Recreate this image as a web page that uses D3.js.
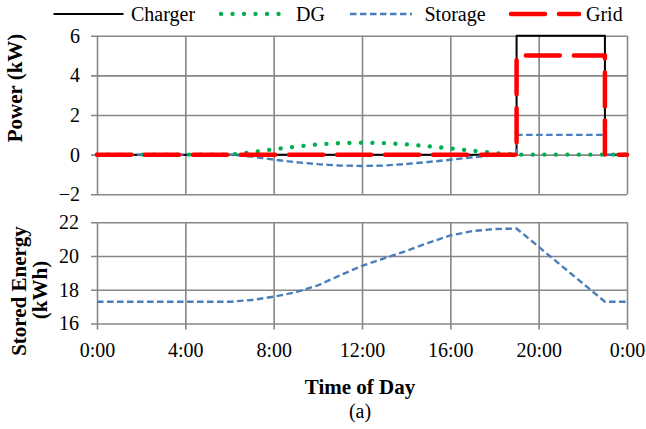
<!DOCTYPE html>
<html><head><meta charset="utf-8">
<script src="https://cdn.jsdelivr.net/npm/d3@7"></script>
<style>
html,body{margin:0;padding:0;background:#fff;}
svg{display:block;font-family:"Liberation Serif","Times New Roman",serif;}
</style></head>
<body>
<svg id="chart" width="646" height="429"></svg>
<script>
// ---- data ----
const tPower   = [0,1,2,3,4,5,6,7,8,9,10,11,12,13,14,15,16,17,18,19,19,20,21,22,23,23,24];
const charger  = [0,0,0,0,0,0,0,0,0,0,0,0,0,0,0,0,0,0,0,0,6,6,6,6,6,0,0];
const dg       = [0,0,0,0,0,0,0,0.12,0.27,0.4,0.52,0.58,0.6,0.58,0.52,0.42,0.32,0.2,0.08,0,0,0,0,0,0,0,0];
const storage  = [0,0,0,0,0,0,0,-0.1,-0.25,-0.38,-0.48,-0.55,-0.57,-0.55,-0.47,-0.37,-0.26,-0.13,-0.04,0,1,1,1,1,1,0,0];
const grid     = [0,0,0,0,0,0,0,0,0,0,0,0,0,0,0,0,0,0,0,0,5,5,5,5,5,0,0];
const tEnergy  = [0,1,2,3,4,5,6,7,8,9,10,11,12,13,14,15,16,17,18,19,20,21,22,23,24];
const energy   = [17.29,17.29,17.29,17.29,17.29,17.29,17.29,17.39,17.59,17.85,18.26,18.85,19.42,19.86,20.3,20.78,21.22,21.48,21.6,21.63,20.55,19.46,18.38,17.29,17.29];
const xTicks   = [0,4,8,12,16,20,24];
const xTickLabels = ["0:00","4:00","8:00","12:00","16:00","20:00","0:00"];
const powerTicks  = [-2,0,2,4,6];
const energyTicks = [16,18,20,22];
const seriesNames = ["Charger","DG","Storage","Grid"];

// ---- layout ----
const svg = d3.select("#chart");
const X0 = 97, X1 = 627;
const GRID = "#878787";
const x = d3.scaleLinear().domain([0,24]).range([X0,X1]);
const yP = d3.scaleLinear().domain([-2,6]).range([194.3,35.7]);
const yE = d3.scaleLinear().domain([16,22]).range([323.5,222.3]);

function styleAxis(g){
  g.select(".domain").remove();
  g.selectAll(".tick line").attr("stroke",GRID).attr("stroke-width",1.6);
  g.selectAll(".tick text").attr("fill","#000").style("font-size","20px")
    .style("font-family","'Liberation Serif','Times New Roman',serif");
}

// top plot: horizontal grid + left ticks
svg.append("g").attr("transform",`translate(${X0-6},0)`)
  .call(d3.axisLeft(yP).tickValues(powerTicks).tickSize(-(X1-X0+6)).tickPadding(11).tickFormat(d3.format("d")))
  .call(styleAxis);
// top plot vertical grid
svg.append("g").attr("transform",`translate(0,${yP(-2)})`)
  .call(d3.axisBottom(x).tickValues(xTicks).tickSize(-(yP(-2)-yP(6))).tickFormat(""))
  .call(styleAxis);

// bottom plot grid
svg.append("g").attr("transform",`translate(${X0-6},0)`)
  .call(d3.axisLeft(yE).tickValues(energyTicks).tickSize(-(X1-X0+6)).tickPadding(12).tickFormat(d3.format("d")))
  .call(styleAxis);
svg.append("g").attr("transform",`translate(0,${yE(16)+6})`)
  .call(d3.axisBottom(x).tickValues(xTicks).tickSize(-(yE(16)-yE(22)+6)).tickPadding(13.5)
        .tickFormat((d,i)=>xTickLabels[i]))
  .call(styleAxis);

// ---- series ----
const styles = {
  Charger: {stroke:"#000", width:2, dash:null, cap:"butt"},
  DG:      {stroke:"#00B050", width:4.3, dash:"0.1 11.4", cap:"round"},
  Storage: {stroke:"#4A7EBB", width:2.4, dash:"6.5 3.5", cap:"butt"},
  Grid:    {stroke:"#FF0000", width:4.5, dash:"34 14", cap:"round"}
};
const powerData = {Charger:charger, DG:dg, Storage:storage, Grid:grid};
const lineP = d3.line().x(d=>x(d[0])).y(d=>yP(d[1]));
["Charger","Storage","DG","Grid"].forEach(name=>{
  const s = styles[name];
  svg.append("path")
    .datum(tPower.map((t,i)=>[t,powerData[name][i]]))
    .attr("d",lineP).attr("fill","none")
    .attr("stroke",s.stroke).attr("stroke-width",s.width)
    .attr("stroke-dasharray",s.dash).attr("stroke-linecap",s.cap)
    .attr("stroke-linejoin","round");
});
const lineE = d3.line().x(d=>x(d[0])).y(d=>yE(d[1]));
svg.append("path")
  .datum(tEnergy.map((t,i)=>[t,energy[i]]))
  .attr("d",lineE).attr("fill","none")
  .attr("stroke",styles.Storage.stroke).attr("stroke-width",styles.Storage.width)
  .attr("stroke-dasharray",styles.Storage.dash);

// ---- legend ----
const legendPos = [
  {name:"Charger", x1:53.5, x2:123.5, tx:131},
  {name:"DG",      x1:221, x2:284,   tx:296},
  {name:"Storage", x1:350, x2:412,   tx:424.5},
  {name:"Grid",    x1:511, x2:579,   tx:586}
];
const leg = svg.append("g");
legendPos.forEach((p,i)=>{
  const s = styles[seriesNames[i]];
  leg.append("line").attr("x1",p.x1).attr("x2",p.x2).attr("y1",14).attr("y2",14)
    .attr("stroke",s.stroke).attr("stroke-width",s.width)
    .attr("stroke-dasharray", seriesNames[i]==="Grid" ? "34 14" : s.dash)
    .attr("stroke-linecap",s.cap);
  leg.append("text").attr("x",p.tx).attr("y",20.5).style("font-size","20px").text(p.name);
});

// ---- axis titles ----
svg.append("text").attr("transform","translate(22,88) rotate(-90)")
  .attr("text-anchor","middle").style("font-size","21px").style("font-weight","bold").text("Power (kW)");
svg.append("text").attr("transform","translate(26,291) rotate(-90)")
  .attr("text-anchor","middle").style("font-size","21px").style("font-weight","bold").text("Stored Energy");
svg.append("text").attr("transform","translate(47,290) rotate(-90)")
  .attr("text-anchor","middle").style("font-size","21px").style("font-weight","bold").text("(kWh)");
svg.append("text").attr("x",360).attr("y",393.5)
  .attr("text-anchor","middle").style("font-size","21px").style("font-weight","bold").text("Time of Day");
svg.append("text").attr("x",360).attr("y",418)
  .attr("text-anchor","middle").style("font-size","20px").text("(a)");
</script>
</body></html>
